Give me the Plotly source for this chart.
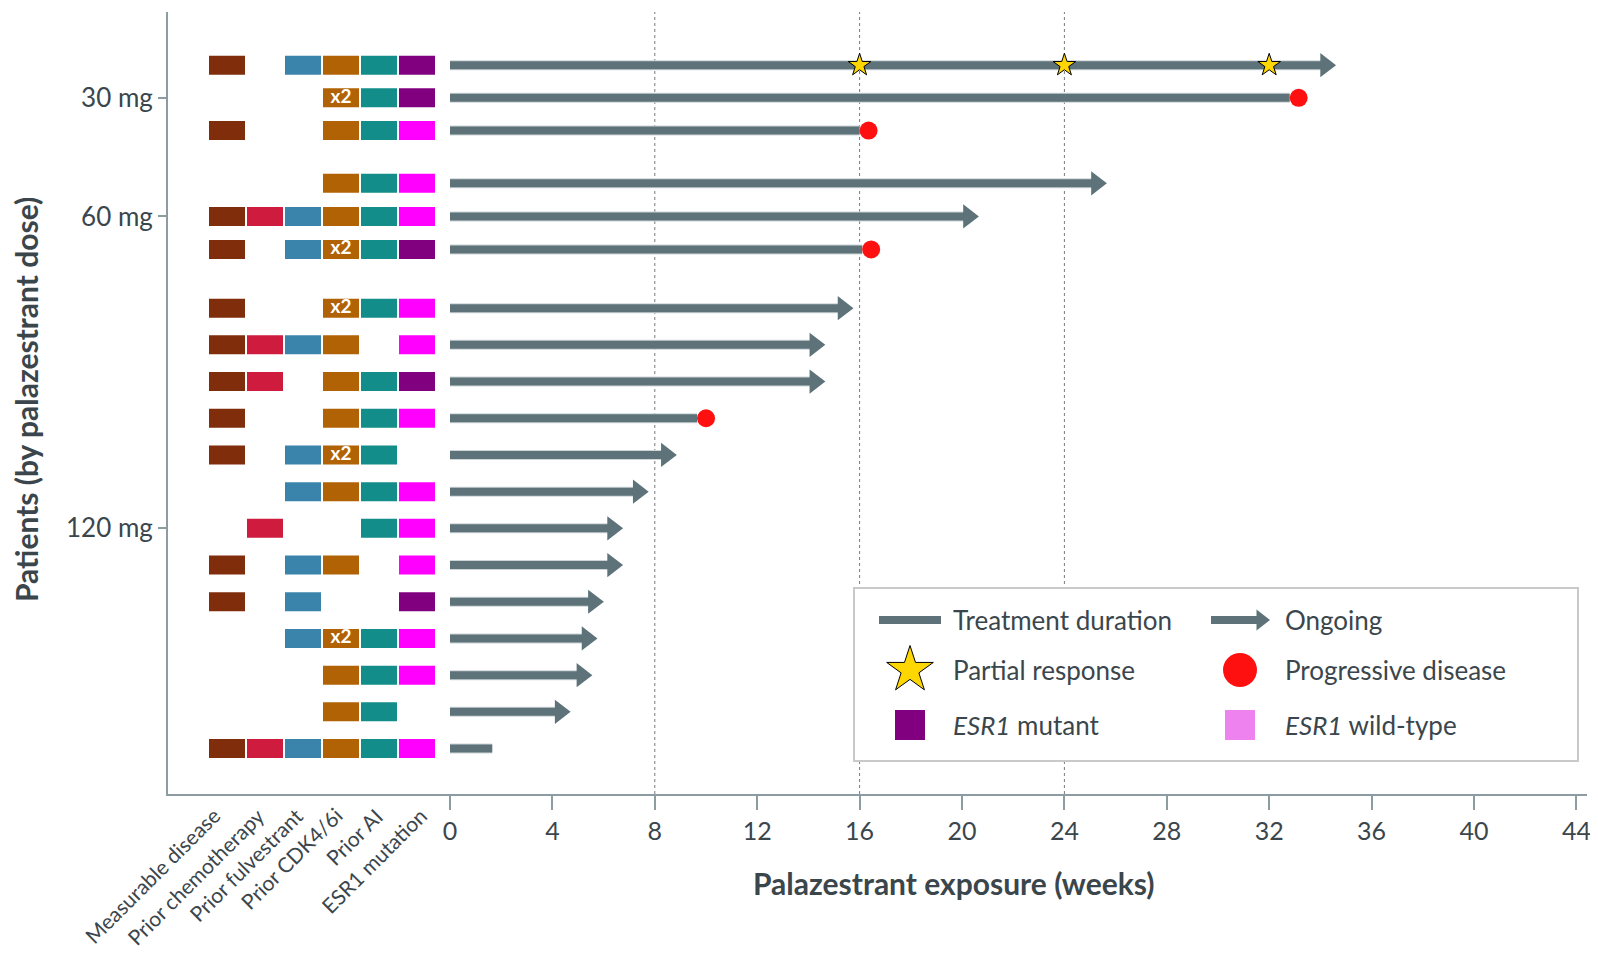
import plotly.graph_objects as go

# ---------------- data ----------------
dose_groups = ["30 mg", "60 mg", "120 mg"]
group_sizes = [3, 3, 13]
categories = ["Measurable disease", "Prior chemotherapy", "Prior fulvestrant",
              "Prior CDK4/6i", "Prior AI", "ESR1 mutation"]
measurable  = [1, 0, 1,  0, 1, 1,  1, 1, 1, 1, 1, 0, 0, 1, 1, 0, 0, 0, 1]
prior_chemo = [0, 0, 0,  0, 1, 0,  0, 1, 1, 0, 0, 0, 1, 0, 0, 0, 0, 0, 1]
prior_fulv  = [1, 0, 0,  0, 1, 1,  0, 1, 0, 0, 1, 1, 0, 1, 1, 1, 0, 0, 1]
prior_cdk   = [1, 2, 1,  1, 1, 2,  2, 1, 1, 1, 2, 1, 0, 1, 0, 2, 1, 1, 1]   # 2 = "x2"
prior_ai    = [1, 1, 1,  1, 1, 1,  1, 0, 1, 1, 1, 1, 1, 0, 0, 1, 1, 1, 1]
esr1_status = ["mut", "mut", "wt",  "wt", "wt", "mut",
               "wt", "wt", "mut", "wt", "", "wt", "wt", "wt", "mut", "wt", "wt", "", "wt"]
exposure_weeks = [34.65, 32.8, 16.0,  25.7, 20.7, 16.1,
                  15.8, 14.7, 14.7, 9.65, 8.9, 7.8, 6.8, 6.8, 6.05, 5.8, 5.6, 4.75, 1.65]
ongoing     = [1, 0, 0,  1, 1, 0,  1, 1, 1, 0, 1, 1, 1, 1, 1, 1, 1, 1, 0]
progressive = [0, 1, 1,  0, 0, 1,  0, 0, 0, 1, 0, 0, 0, 0, 0, 0, 0, 0, 0]
pr_patient = 0
pr_weeks = [16, 24, 32]
x_ticks = list(range(0, 45, 4))
ref_lines = [8, 16, 24]

# ---------------- style / layout ----------------
FONT = "Lato"
TXT = "#3b464c"
LINE_C = "#5d7279"
AX_C = "#8d9ca1"
col_colors = ["#7f2d0a", "#cf1b3e", "#3a84ab", "#b06205", "#128d89"]
esr1_colors = {"mut": "#800080", "wt": "#ff00ff"}
legend_wt = "#ee82ee"

OFF = 8                      # page body margin
FIG_W, FIG_H = 1598 - OFF, 958 - OFF
L, T = 168 - OFF, 12 - OFF
R, B = FIG_W - (1587 - OFF), FIG_H - (794 - OFF)
PW, PH = FIG_W - L - R, FIG_H - T - B
PXW = 25.6                   # pixels per week
X0 = 450 - OFF               # figure pixel of week 0
UNIT = 36.7                  # pixels per y unit
Y0 = 65.2 - OFF              # figure pixel of first row
x_range = [(L - X0) / PXW, (FIG_W - R - X0) / PXW]
y_range = [(FIG_H - B - Y0) / UNIT, (T - Y0) / UNIT]


def fx(p):      # reference pixel x -> figure pixel x
    return p - OFF


def pxp(p):     # reference pixel x -> paper
    return (fx(p) - L) / PW


def pyp(p):     # reference pixel y -> paper
    return (FIG_H - B - (p - OFF)) / PH


pitches = [0.89, 0.9, 1.0]
gaps = [1.44, 1.6]
row_y = []
for gi, n in enumerate(group_sizes):
    pos = 0.0 if gi == 0 else row_y[-1] + gaps[gi - 1]
    for k in range(n):
        row_y.append(pos + k * pitches[gi])
tick_y = []
start = 0
for n in group_sizes:
    tick_y.append(row_y[start + n // 2])
    start += n

col_px0, col_step_px, col_w_px, box_h_px = 227, 38, 36, 19
col_x = [(fx(col_px0 + i * col_step_px) - X0) / PXW for i in range(6)]
col_w = col_w_px / PXW
box_h = box_h_px / UNIT
label_end_px = [219, 263, 302, 341, 382, 426]

fig = go.Figure()

# annotation boxes (bars)
flags = [measurable, prior_chemo, prior_fulv, prior_cdk, prior_ai]
for ci, fl in enumerate(flags):
    ys = [row_y[i] for i in range(len(fl)) if fl[i]]
    fig.add_trace(go.Bar(orientation="h", y=ys, x=[col_w] * len(ys),
                         base=col_x[ci] - col_w / 2, width=box_h,
                         marker=dict(color=col_colors[ci], line=dict(width=0)),
                         hoverinfo="skip", showlegend=False))
ys = [row_y[i] for i in range(len(esr1_status)) if esr1_status[i]]
cs = [esr1_colors[s] for s in esr1_status if s]
fig.add_trace(go.Bar(orientation="h", y=ys, x=[col_w] * len(ys),
                     base=col_x[5] - col_w / 2, width=box_h,
                     marker=dict(color=cs, line=dict(width=0)),
                     hoverinfo="skip", showlegend=False))
ys = [row_y[i] for i in range(len(prior_cdk)) if prior_cdk[i] == 2]
fig.add_trace(go.Scatter(x=[col_x[3]] * len(ys), y=ys, mode="text", text=["x2"] * len(ys),
                         textfont=dict(family=FONT, size=19, color="white", weight="bold"),
                         hoverinfo="skip", showlegend=False))

# treatment lines
head_off = 11.5 / PXW
dot_off = 9 / PXW
lx, ly = [], []
for i, w in enumerate(exposure_weeks):
    end = w - head_off if ongoing[i] else w
    lx += [0, end, None]
    ly += [row_y[i], row_y[i], None]
fig.add_trace(go.Scatter(x=lx, y=ly, mode="lines", line=dict(color="#cdd5d8", width=10),
                         hoverinfo="skip", showlegend=False))
fig.add_trace(go.Scatter(x=lx, y=ly, mode="lines", line=dict(color=LINE_C, width=8),
                         hoverinfo="skip", showlegend=False))
ax_ = [exposure_weeks[i] - head_off for i in range(len(ongoing)) if ongoing[i]]
ay_ = [row_y[i] for i in range(len(ongoing)) if ongoing[i]]
fig.add_trace(go.Scatter(x=ax_, y=ay_, mode="markers",
                         marker=dict(symbol="triangle-right", size=21, color=LINE_C, line=dict(width=0)),
                         hoverinfo="skip", showlegend=False))
px_ = [exposure_weeks[i] + dot_off for i in range(len(progressive)) if progressive[i]]
py_ = [row_y[i] for i in range(len(progressive)) if progressive[i]]
fig.add_trace(go.Scatter(x=px_, y=py_, mode="markers",
                         marker=dict(symbol="circle", size=18, color="#ff1010", line=dict(width=0)),
                         hoverinfo="skip", showlegend=False))
fig.add_trace(go.Scatter(x=pr_weeks, y=[row_y[pr_patient]] * len(pr_weeks), mode="markers",
                         marker=dict(symbol="star", size=17, color="#ffd700",
                                     line=dict(color="black", width=1)),
                         hoverinfo="skip", showlegend=False))

# ---------------- legend ----------------
shapes = []
for v in ref_lines:
    shapes.append(dict(type="line", xref="x", yref="paper", x0=v, x1=v, y0=0, y1=1,
                       line=dict(color="#7a7a7a", width=1, dash="3px,3px"), layer="below"))
shapes.append(dict(type="rect", xref="paper", yref="paper",
                   x0=pxp(854), x1=pxp(1578), y0=pyp(761), y1=pyp(588),
                   line=dict(color="#c9c9c9", width=2), fillcolor="white", layer="below"))

r1, r2, r3 = 620, 670, 725


def tr(x, y, **kw):
    fig.add_trace(go.Scatter(x=[fx(v) for v in x], y=[v - OFF for v in y], xaxis="x2", yaxis="y2",
                             hoverinfo="skip", showlegend=False, **kw))


tr([879, 941], [r1, r1], mode="lines", line=dict(color=LINE_C, width=8))
tr([1211, 1258], [r1, r1], mode="lines", line=dict(color=LINE_C, width=8))
tr([1261], [r1], mode="markers", marker=dict(symbol="triangle-right", size=18, color=LINE_C))
tr([910], [r2], mode="markers", marker=dict(symbol="star", size=35, color="#ffd700",
                                            line=dict(color="black", width=1)))
tr([1240], [r2], mode="markers", marker=dict(symbol="circle", size=34, color="#ff1010"))
tr([910, 1240], [r3, r3], mode="markers",
   marker=dict(symbol="square", size=30, color=[esr1_colors["mut"], legend_wt]))

annotations = []
leg_items = [("Treatment duration", 951, r1), ("Ongoing", 1283, r1),
             ("Partial response", 951, r2), ("Progressive disease", 1283, r2),
             ("<i>ESR1</i> mutant", 951, r3), ("<i>ESR1</i> wild-type", 1283, r3)]
for t, x, y in leg_items:
    annotations.append(dict(text=t, x=pxp(x), y=pyp(y), xref="paper", yref="paper", xanchor="left",
                            yanchor="middle", showarrow=False,
                            font=dict(family=FONT, size=26, color=TXT)))
for i, c in enumerate(categories):
    annotations.append(dict(text=c, x=pxp(label_end_px[i] + 8), y=pyp(800),
                            xref="paper", yref="paper",
                            xanchor="right", yanchor="top", textangle=-45, showarrow=False,
                            font=dict(family=FONT, size=21, color=TXT)))
annotations.append(dict(text="<b>Palazestrant exposure (weeks)</b>", x=pxp(954), y=pyp(883),
                        xref="paper", yref="paper", xanchor="center", yanchor="middle", showarrow=False,
                        font=dict(family=FONT, size=30, color=TXT)))
annotations.append(dict(text="<b>Patients (by palazestrant dose)</b>", x=pxp(26), y=pyp(400),
                        xref="paper", yref="paper", xanchor="center", yanchor="middle",
                        textangle=-90, showarrow=False,
                        font=dict(family=FONT, size=30, color=TXT)))

fig.update_layout(
    width=FIG_W, height=FIG_H,
    margin=dict(l=L, r=R, t=T, b=B),
    plot_bgcolor="white", paper_bgcolor="white",
    barmode="overlay", showlegend=False,
    font=dict(family=FONT, color=TXT),
    shapes=shapes, annotations=annotations,
    xaxis=dict(range=x_range, tickmode="array", tickvals=x_ticks, ticktext=[str(v) for v in x_ticks],
               showgrid=False, zeroline=False, showline=True, linecolor=AX_C, linewidth=2,
               ticks="outside", ticklen=14, tickwidth=1.5, tickcolor=AX_C,
               tickfont=dict(family=FONT, size=25, color=TXT), fixedrange=True),
    yaxis=dict(range=y_range, tickmode="array", tickvals=tick_y, ticktext=dose_groups,
               showgrid=False, zeroline=False, showline=True, linecolor=AX_C, linewidth=2,
               ticks="outside", ticklen=8, tickwidth=1.5, tickcolor=AX_C,
               tickfont=dict(family=FONT, size=26, color=TXT), fixedrange=True),
    xaxis2=dict(range=[L, FIG_W - R], overlaying="x", visible=False, fixedrange=True),
    yaxis2=dict(range=[FIG_H - B, T], overlaying="y", visible=False, fixedrange=True),
)

fig.write_html("out.html")
